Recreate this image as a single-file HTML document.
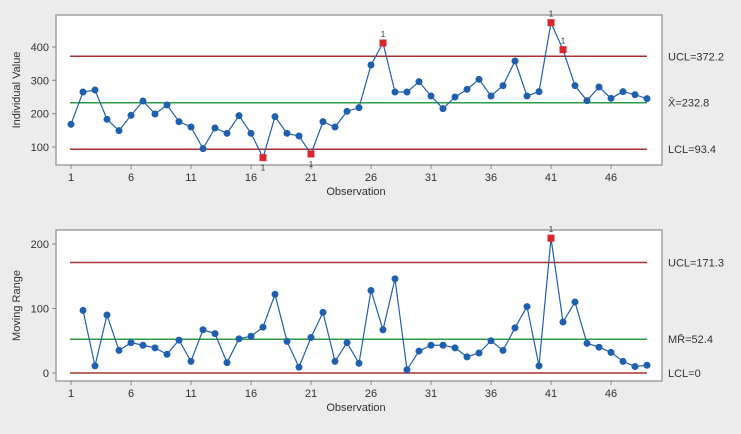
<!DOCTYPE html>
<html><head><meta charset="utf-8"><style>
body{margin:0;background:#ececec;font-family:"Liberation Sans",sans-serif;}
svg text{font-family:"Liberation Sans",sans-serif;fill:#333;}
</style></head><body>
<svg id="c" width="741" height="429" xmlns="http://www.w3.org/2000/svg"></svg>
<script>
const observations=[1,2,3,4,5,6,7,8,9,10,11,12,13,14,15,16,17,18,19,20,21,22,23,24,25,26,27,28,29,30,31,32,33,34,35,36,37,38,39,40,41,42,43,44,45,46,47,48,49];
const individualValues=[168,265,271,183,149,195,238,199,226,176,160,95,157,141,194,141,68,191,141,133,79,176,160,207,218,346,412,265,265,296,253,215,250,273,303,253,284,358,253,266,473,392,284,239,280,246,266,257,245];
const movingRanges=[null,97,11,90,35,47,43,39,29,51,18,67,61,16,53,57,71,122,49,9,55,94,18,47,15,128,67,146,5,34,43,43,39,25,31,50,35,70,103,11,209,79,110,46,40,32,18,10,12];
const xTicks=[1,6,11,16,21,26,31,36,41,46];
const iTicks=[100,200,300,400];
const mrTicks=[0,100,200];
const iLimits={ucl:372.2,mean:232.8,lcl:93.4};
const mrLimits={ucl:171.3,mean:52.4,lcl:0};
const iFlags=[17,21,27,41,42];
const mrFlags=[41];
const iLabels=["UCL=372.2","X̄=232.8","LCL=93.4"];
const mrLabels=["UCL=171.3","MR̄=52.4","LCL=0"];

const svg=document.getElementById('c');
const NS='http://www.w3.org/2000/svg';
function mk(t,a,p){const e=document.createElementNS(NS,t);for(const k in a)e.setAttribute(k,a[k]);(p||svg).appendChild(e);return e;}
const xs=o=>71+(o-1)*12;

function panel(name,top,bottom,yScale,vals,ticks,lim,labels,flags,ylab,flagAbove){
  const g=mk('g',{});
  
  
  const fr=mk('rect',{x:56,y:top,width:606,height:bottom-top,fill:'#fff',stroke:'#a0a0a0','stroke-width':1.5},g);
  
  ticks.forEach(t=>{const y=yScale(t);
    mk('line',{x1:52,x2:56,y1:y,y2:y,stroke:'#888'},g);
    const tx=mk('text',{x:49,y:y+4,'font-size':11,'text-anchor':'end'},g);tx.textContent=t;
    });
  xTicks.forEach(t=>{const x=xs(t);
    mk('line',{x1:x,x2:x,y1:bottom,y2:bottom+4,stroke:'#888'},g);
    const tx=mk('text',{x:x,y:bottom+16,'font-size':11,'text-anchor':'middle'},g);tx.textContent=t;
    });
  const xl=mk('text',{x:356,y:bottom+30,'font-size':11,'text-anchor':'middle'},g);xl.textContent='Observation';
  
  const cy=(top+bottom)/2;
  const yl=mk('text',{x:20,y:cy,'font-size':11,'text-anchor':'middle',transform:`rotate(-90 20 ${cy})`},g);yl.textContent=ylab;
  
  [['ucl','#a83232'],['mean','#2e9a46'],['lcl','#a83232']].forEach(([k,c],i)=>{
    const y=yScale(lim[k]);
    const l=mk('line',{x1:70,x2:647,y1:y,y2:y,stroke:c,'stroke-width':1.5},g);
    
    const t=mk('text',{x:668,y:y+4,'font-size':11},g);t.textContent=labels[i];
    });
  let d='';vals.forEach((v,i)=>{if(v==null)return;d+=(d?'L':'M')+xs(observations[i])+','+yScale(v);});
  const p=mk('path',{d:d,fill:'none',stroke:'#1f5fb0','stroke-width':1.2},g);
  
  vals.forEach((v,i)=>{if(v==null)return;const o=observations[i],x=xs(o),y=yScale(v);
    if(flags.includes(o)){
      const r=mk('rect',{x:x-3.5,y:y-3.5,width:7,height:7,fill:'#d9262c'},g);
      
      const up=flagAbove(v);
      const t=mk('text',{x:x,y:up?y-6:y+13,'font-size':8,'text-anchor':'middle',fill:'#999'},g);t.textContent='1';
      
    }else{
      const c=mk('circle',{cx:x,cy:y,r:3.5,fill:'#1f5fb0'},g);
      
    }});
}
panel('individuals-chart',15,165,v=>47+(400-v)/3,individualValues,iTicks,iLimits,iLabels,iFlags,'Individual Value',v=>v>iLimits.mean);
panel('moving-range-chart',230,381,v=>373-v*129/200,movingRanges,mrTicks,mrLimits,mrLabels,mrFlags,'Moving Range',()=>true);
</script>
</body></html>
